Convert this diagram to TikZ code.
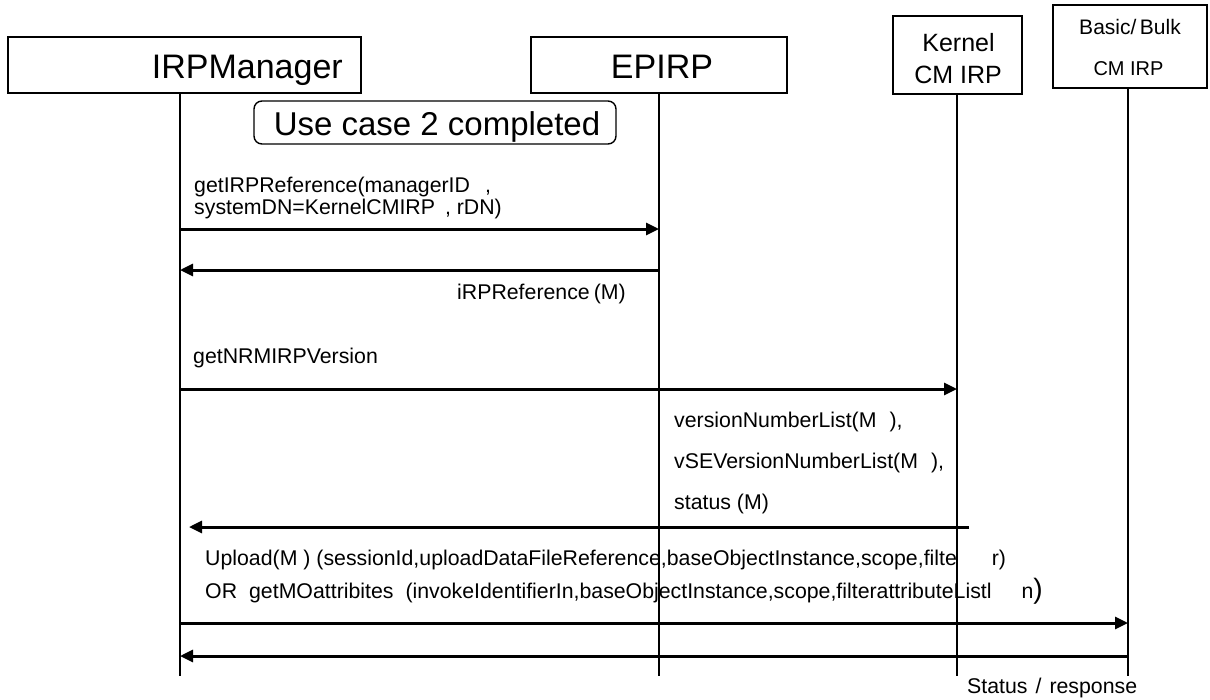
\documentclass[tikz,border=0pt]{standalone}
\usepackage{fontspec}
\setmainfont{Liberation Sans}
\usetikzlibrary{arrows.meta}
\tikzset{
  box/.style={draw, line width=1.6pt, inner sep=0pt},
  life/.style={line width=1.6pt},
  msg/.style={line width=3pt, -{Triangle[length=13pt,width=12pt]}},
  lbl/.style={anchor=base west, inner sep=0pt, font=\fontsize{21.3}{25}\selectfont},
  big/.style={anchor=base, inner sep=0pt, font=\fontsize{34}{40}\selectfont},
  mid/.style={anchor=base, inner sep=0pt},
}
\begin{document}
\begin{tikzpicture}[x=1pt,y=-1pt]
\useasboundingbox (0,0) rectangle (1210,699);
% header boxes
\node[box, minimum width=353pt, minimum height=56pt] (mgr) at (184.5,65) {};
\node[big, anchor=base east] (mgrT) at (343,78) {IRPManager};
\node[box, minimum width=256pt, minimum height=56pt] (ep) at (659,65) {};
\node[big] (epT) at (662,78) {EPIRP};
\node[box, minimum width=129pt, minimum height=78pt] (ker) at (957.5,55) {};
\node[mid, font=\fontsize{25}{30}\selectfont] (kerT1) at (958.5,51) {Kernel};
\node[mid, font=\fontsize{25}{30}\selectfont] (kerT2) at (958,83) {CM IRP};
\node[box, minimum width=154pt, minimum height=83pt] (bas) at (1130,46.5) {};
\node[mid, font=\fontsize{21}{25}\selectfont] (basT1) at (1130,34) {Basic/\,Bulk};
\node[mid, font=\fontsize{20}{24}\selectfont] (basT2) at (1128.5,75) {CM IRP};
% use case
\node[draw, rounded corners=8pt, line width=1.4pt, inner sep=0pt, minimum width=362pt, minimum height=43pt] (uc) at (435,122.5) {};
\node[mid, font=\fontsize{33}{40}\selectfont] (ucT) at (437,135) {Use case 2 completed};
% lifelines
\coordinate (mgrE) at (180,676);
\coordinate (epE) at (659,676);
\coordinate (kerE) at (957,676);
\coordinate (basE) at (1128,676);
\draw[life] (mgrE |- mgr.south) -- (mgrE);
\draw[life] (epE |- ep.south) -- (epE);
\draw[life] (kerE |- ker.south) -- (kerE);
\draw[life] (basE |- bas.south) -- (basE);
% messages
\coordinate (m1a) at (180,229); \coordinate (m1b) at (659,229);
\coordinate (m2a) at (659,270); \coordinate (m2b) at (180,270);
\coordinate (m3a) at (180,389); \coordinate (m3b) at (957,389);
\coordinate (m4a) at (969,527); \coordinate (m4b) at (189,527);
\coordinate (m5a) at (180,623); \coordinate (m5b) at (1128,623);
\coordinate (m6a) at (1128,656); \coordinate (m6b) at (180,656);
\draw[msg] (m1a) -- (m1b);
\draw[msg] (m2a) -- (m2b);
\draw[msg] (m3a) -- (m3b);
\draw[msg] (m4a) -- (m4b);
\draw[msg] (m5a) -- (m5b);
\draw[msg] (m6a) -- (m6b);
% labels
\node[lbl] (l1a) at (194,192) {getIRPReference(managerID\hspace{15pt},};
\node[lbl] (l1b) at (194,214) {systemDN=KernelCMIRP\hspace{10pt}, rDN)};
\node[lbl] (l2) at (457,299) {iRPReference\hspace{4pt}(M)};
\node[lbl] (l3) at (193,363) {getNRMIRPVersion};
\node[lbl] (l4a) at (674,427) {versionNumberList(M\hspace{13pt}),};
\node[lbl] (l4b) at (674,468) {vSEVersionNumberList(M\hspace{13pt}),};
\node[lbl] (l4c) at (674,509) {status (M)};
\node[lbl] (l5a) at (205,565) {Upload(M ) (sessionId,uploadDataFileReference,baseObjectInstance,scope,filte\hspace{35pt}r)};
\node[lbl] (l5b) at (205,598) {OR\hspace{12pt}getMOattribites\hspace{12pt}(invokeIdentifierIn,baseObjectInstance,scope,filterattributeListl\hspace{30pt}n{\fontsize{28}{30}\selectfont)}};
\node[lbl] (l6) at (967,693) {Status\hspace{8pt}/\hspace{8pt}response};
\end{tikzpicture}
\end{document}
